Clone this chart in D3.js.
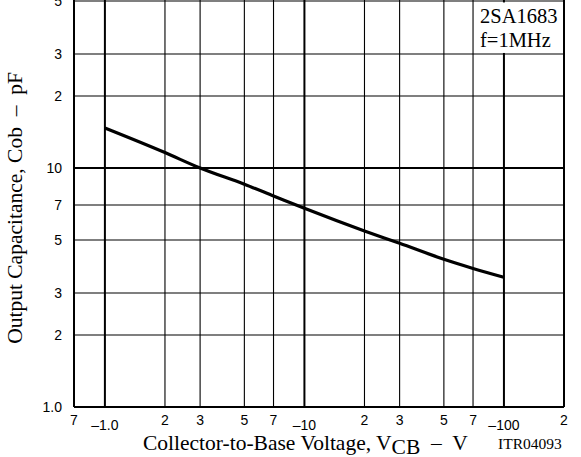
<!DOCTYPE html>
<html><head><meta charset="utf-8">
<script src="https://cdn.jsdelivr.net/npm/d3@7"></script>
<style>
html,body{margin:0;padding:0;background:#fff;}
svg{display:block;}
</style></head>
<body>
<svg id="chart" width="581" height="457"></svg>
<script>
// Data
const voltages = [1, 2, 3, 5, 7, 10, 20, 30, 50, 70, 100];          // |VCB| in V
const capacitance = [14.7, 11.6, 10.0, 8.55, 7.64, 6.78, 5.45, 4.84, 4.15, 3.80, 3.49]; // Cob pF
const xTickValues = [0.7, 1, 2, 3, 5, 7, 10, 20, 30, 50, 70, 100, 200];
const xTickLabels = ["7", "\u20131.0", "2", "3", "5", "7", "\u201310", "2", "3", "5", "7", "\u2013100", "2"];
const xMajor = [1, 10, 100];
const yTickValues = [1, 2, 3, 5, 7, 10, 20, 30, 50];
const yTickLabels = ["1.0", "2", "3", "5", "7", "10", "2", "3", "5"];
const yGridValues = [1, 2, 3, 5, 7, 10, 20, 30, 50, 70, 100];
const yMajor = [1, 10, 100];
const noteLines = ["2SA1683", "f=1MHz"];

const svg = d3.select("#chart");
const x = d3.scaleLog().domain([0.7, 200]).range([74, 564]);
const y = d3.scaleLog().domain([1, 100]).range([407, -71]);

const grid = svg.append("g");
// vertical gridlines
grid.selectAll("line.v").data(xTickValues).enter().append("line")
  .attr("x1", d => x(d)).attr("x2", d => x(d))
  .attr("y1", y(100)).attr("y2", y(1))
  .attr("stroke", "#000")
  .attr("stroke-width", d => (xMajor.includes(d) || d === 0.7 || d === 200) ? 2 : 1.1);
// horizontal gridlines
grid.selectAll("line.h").data(yGridValues).enter().append("line")
  .attr("y1", d => y(d)).attr("y2", d => y(d))
  .attr("x1", x(0.7)).attr("x2", x(200))
  .attr("stroke", "#000")
  .attr("stroke-width", d => yMajor.includes(d) ? 2 : 1.1);

// curve
const line = d3.line().x((d, i) => x(voltages[i])).y(d => y(d)).curve(d3.curveMonotoneX);
svg.append("path").datum(capacitance)
  .attr("d", line).attr("fill", "none").attr("stroke", "#000")
  .attr("stroke-width", 3.2).attr("stroke-linejoin", "round");

// note box
svg.append("rect").attr("x", x(70) + 1).attr("y", y(50) + 1.5)
  .attr("width", x(200) - x(70) - 2).attr("height", y(30) - y(50) - 2.5)
  .attr("fill", "#fff");
svg.selectAll("text.note").data(noteLines).enter().append("text")
  .attr("x", 480).attr("y", (d, i) => 22.5 + i * 24)
  .attr("font-family", "Liberation Serif, Times New Roman, serif")
  .attr("font-size", 20.5).attr("fill", "#000").text(d => d);

// x tick labels
svg.selectAll("text.xt").data(xTickValues).enter().append("text")
  .attr("x", d => x(d))
  .attr("y", d => xMajor.includes(d) ? 430 : 425)
  .attr("text-anchor", "middle")
  .attr("font-family", "Liberation Sans, Arial, sans-serif")
  .attr("font-size", 14).attr("fill", "#000")
  .text((d, i) => xTickLabels[i]);

// y tick labels
svg.selectAll("text.yt").data(yTickValues).enter().append("text")
  .attr("x", 62).attr("y", d => y(d) + 5)
  .attr("text-anchor", "end")
  .attr("font-family", "Liberation Sans, Arial, sans-serif")
  .attr("font-size", 14).attr("fill", "#000")
  .text((d, i) => yTickLabels[i]);

// x title
const xt = svg.append("text").attr("x", 143).attr("y", 450)
  .attr("font-family", "Liberation Serif, Times New Roman, serif")
  .attr("font-size", 21.5).attr("fill", "#000").style("white-space", "pre");
xt.append("tspan").text("Collector-to-Base Voltage, V");
xt.append("tspan").attr("dy", 3.5).text("CB");
xt.append("tspan").attr("dy", -3.5).text("  \u2013  V");

svg.append("text").attr("x", 498).attr("y", 449)
  .attr("font-family", "Liberation Serif, Times New Roman, serif")
  .attr("font-size", 15.5).attr("fill", "#000").text("ITR04093");

// y title
svg.append("text")
  .attr("transform", "translate(22,208) rotate(-90)")
  .attr("text-anchor", "middle")
  .attr("font-family", "Liberation Serif, Times New Roman, serif")
  .attr("font-size", 21.5).attr("fill", "#000").style("white-space", "pre")
  .text("Output Capacitance, Cob  \u2013  pF");
</script>
</body></html>
